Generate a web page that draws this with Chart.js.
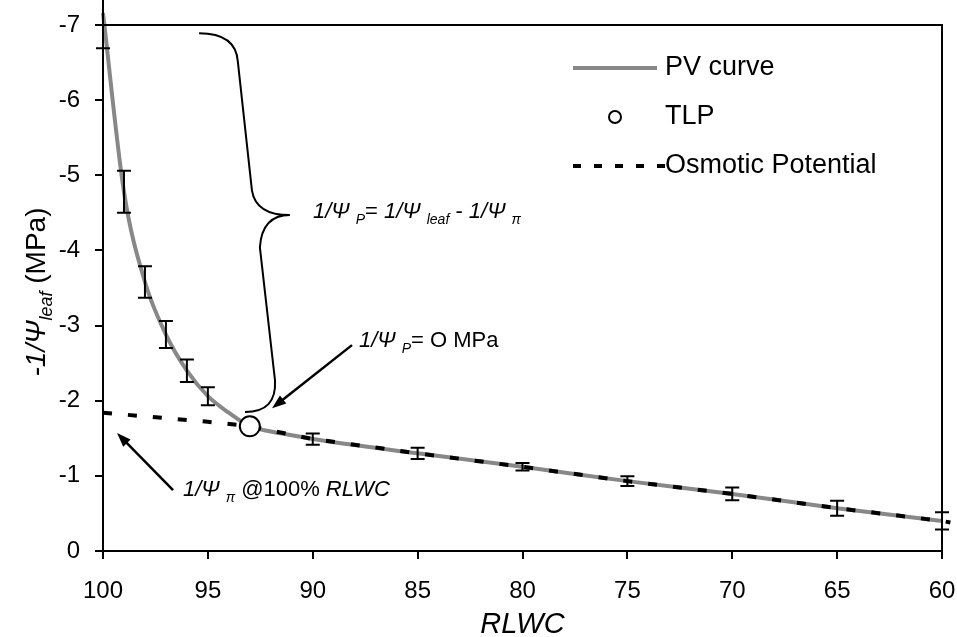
<!DOCTYPE html>
<html>
<head>
<meta charset="utf-8">
<script src="https://cdn.jsdelivr.net/npm/chart.js@4.4.1/dist/chart.umd.min.js"></script>
<style>
  body { margin: 0; background: #fff; }
  canvas { display: block; }
</style>
</head>
<body>
<canvas id="pvChart" width="957" height="637"></canvas>
<script>
// PV curve (RLWC %, -1/Psi leaf in MPa)
const pvRlwc = [100, 99, 98, 97, 96, 95, 94, 93, 92, 91, 90, 85, 80, 75, 70, 65, 60];
const pvValues = [-7.16, -4.78, -3.58, -2.88, -2.40, -2.06, -1.84, -1.66, -1.59, -1.54, -1.49, -1.30, -1.12, -0.93, -0.76, -0.57, -0.40];
const pvErrors = [0.47, 0.28, 0.21, 0.18, 0.15, 0.12, null, null, null, null, 0.075, 0.075, 0.05, 0.065, 0.085, 0.10, 0.115];

// osmotic potential line
const osmRlwc = [100, 95, 93, 90, 85, 80, 75, 70, 65, 60, 59.6];
const osmValues = [-1.84, -1.72, -1.66, -1.49, -1.30, -1.12, -0.93, -0.76, -0.57, -0.40, -0.38];

// turgor loss point
const tlpRlwc = [93];
const tlpValues = [-1.66];

const xTicks = [100, 95, 90, 85, 80, 75, 70, 65, 60];
const yTicks = [0, -1, -2, -3, -4, -5, -6, -7];

const FONT = "'Liberation Sans', Arial, sans-serif";

function toPoints(xs, ys) {
    return xs.map((x, i) => ({ x: x, y: ys[i] }));
}

// draws a run of text pieces (italic / subscript) from a baseline
function drawRich(ctx, x, y, parts) {
    let cx = x;
    parts.forEach(p => {
        const size = p.sub ? Math.round(p.size * 0.65) : p.size;
        ctx.font = (p.it ? "italic " : "") + size + "px " + FONT;
        ctx.fillText(p.t, cx, y + (p.sub ? p.size * 0.25 : 0));
        cx += ctx.measureText(p.t).width;
    });
    return cx - x;
}

function richWidth(ctx, parts) {
    let w = 0;
    parts.forEach(p => {
        const size = p.sub ? Math.round(p.size * 0.65) : p.size;
        ctx.font = (p.it ? "italic " : "") + size + "px " + FONT;
        w += ctx.measureText(p.t).width;
    });
    return w;
}

function arrow(ctx, x1, y1, x2, y2) {
    const ang = Math.atan2(y2 - y1, x2 - x1);
    const head = 15;
    ctx.beginPath();
    ctx.moveTo(x1, y1);
    ctx.lineTo(x2 - Math.cos(ang) * head * 0.8, y2 - Math.sin(ang) * head * 0.8);
    ctx.stroke();
    ctx.beginPath();
    ctx.moveTo(x2, y2);
    ctx.lineTo(x2 - head * Math.cos(ang - 0.35), y2 - head * Math.sin(ang - 0.35));
    ctx.lineTo(x2 - head * Math.cos(ang + 0.35), y2 - head * Math.sin(ang + 0.35));
    ctx.closePath();
    ctx.fill();
}

const extrasPlugin = {
    id: "extras",
    afterDatasetsDraw(chart) {
        const ctx = chart.ctx;
        const xs = chart.scales.x;
        const ys = chart.scales.y;
        const area = chart.chartArea;
        const P = (rx, ry) => [xs.getPixelForValue(rx), ys.getPixelForValue(ry)];

        ctx.save();
        ctx.strokeStyle = "#000";
        ctx.fillStyle = "#000";

        // error bars
        ctx.lineWidth = 2;
        pvRlwc.forEach((rx, i) => {
            const e = pvErrors[i];
            if (e === null) return;
            const px = xs.getPixelForValue(rx);
            const top = ys.getPixelForValue(pvValues[i] - e);
            const bot = ys.getPixelForValue(pvValues[i] + e);
            ctx.beginPath();
            ctx.moveTo(px, top);
            ctx.lineTo(px, bot);
            ctx.moveTo(px - 7, top);
            ctx.lineTo(px + 7, top);
            ctx.moveTo(px - 7, bot);
            ctx.lineTo(px + 7, bot);
            ctx.stroke();
        });

        // top and right frame
        ctx.lineWidth = 2;
        ctx.beginPath();
        ctx.moveTo(area.left, area.top);
        ctx.lineTo(area.right, area.top);
        ctx.lineTo(area.right, area.bottom);
        ctx.stroke();

        // brace
        ctx.lineWidth = 2;
        let a = P(95.42, -6.89), c, b;
        ctx.beginPath();
        ctx.moveTo(a[0], a[1]);
        c = P(93.66, -6.89); b = P(93.57, -6.51);
        ctx.quadraticCurveTo(c[0], c[1], b[0], b[1]);
        b = P(92.90, -4.80);
        ctx.lineTo(b[0], b[1]);
        c = P(92.71, -4.47); b = P(91.09, -4.47);
        ctx.quadraticCurveTo(c[0], c[1], b[0], b[1]);
        c = P(92.42, -4.47); b = P(92.52, -4.04);
        ctx.quadraticCurveTo(c[0], c[1], b[0], b[1]);
        b = P(91.80, -2.27);
        ctx.lineTo(b[0], b[1]);
        c = P(91.71, -1.85); b = P(93.23, -1.85);
        ctx.quadraticCurveTo(c[0], c[1], b[0], b[1]);
        ctx.stroke();

        // arrows
        ctx.lineWidth = 2.5;
        let s = P(88.13, -2.74), t = P(91.94, -1.90);
        arrow(ctx, s[0], s[1], t[0], t[1]);
        s = P(96.66, -0.81); t = P(99.33, -1.57);
        arrow(ctx, s[0], s[1], t[0], t[1]);

        // annotation texts
        ctx.textBaseline = "alphabetic";
        ctx.textAlign = "left";
        const fs = 22;
        let p = P(89.99, -4.43);
        drawRich(ctx, p[0], p[1], [
            { t: "1/\u03A8 ", it: true, size: fs },
            { t: "P", it: true, sub: true, size: fs },
            { t: "= ", size: fs },
            { t: "1/\u03A8 ", it: true, size: fs },
            { t: "leaf", it: true, sub: true, size: fs },
            { t: " - ", size: fs },
            { t: "1/\u03A8 ", it: true, size: fs },
            { t: "\u03C0", it: true, sub: true, size: fs }
        ]);
        p = P(87.80, -2.71);
        drawRich(ctx, p[0], p[1], [
            { t: "1/\u03A8 ", it: true, size: fs },
            { t: "P", it: true, sub: true, size: fs },
            { t: "= O MPa", size: fs }
        ]);
        p = P(96.19, -0.73);
        drawRich(ctx, p[0], p[1], [
            { t: "1/\u03A8 ", it: true, size: fs },
            { t: "\u03C0", it: true, sub: true, size: fs },
            { t: " @100% ", size: fs },
            { t: "RLWC", it: true, size: fs }
        ]);

        // legend
        const lx = area.right - 369;
        const tx = area.right - 277;
        const ly = [area.top + 43, area.top + 92, area.top + 141];
        ctx.lineWidth = 4;
        ctx.strokeStyle = "#888";
        ctx.beginPath();
        ctx.moveTo(lx, ly[0]);
        ctx.lineTo(lx + 84, ly[0]);
        ctx.stroke();
        ctx.strokeStyle = "#000";
        ctx.lineWidth = 2;
        ctx.fillStyle = "#fff";
        ctx.beginPath();
        ctx.arc(lx + 42, ly[1], 6, 0, Math.PI * 2);
        ctx.fill();
        ctx.stroke();
        ctx.lineWidth = 4;
        ctx.setLineDash([8, 13]);
        ctx.beginPath();
        ctx.moveTo(lx, ly[2]);
        ctx.lineTo(lx + 92, ly[2]);
        ctx.stroke();
        ctx.setLineDash([]);
        ctx.fillStyle = "#000";
        ctx.font = "27px " + FONT;
        ctx.textBaseline = "middle";
        ctx.fillText("PV curve", tx, ly[0]);
        ctx.fillText("TLP", tx, ly[1]);
        ctx.fillText("Osmotic Potential", tx, ly[2]);

        // axis titles
        ctx.textBaseline = "alphabetic";
        ctx.font = "italic 29px " + FONT;
        ctx.textAlign = "center";
        ctx.fillText("RLWC", (area.left + area.right) / 2, 633);

        ctx.textAlign = "left";
        const yTitle = [
            { t: "-1/\u03A8", it: true, size: 28 },
            { t: "leaf", it: true, sub: true, size: 28 },
            { t: " (MPa)", size: 28 }
        ];
        ctx.translate(45, 292);
        ctx.rotate(-Math.PI / 2);
        const w = richWidth(ctx, yTitle);
        drawRich(ctx, -w / 2, 0, yTitle);

        ctx.restore();
    }
};

new Chart(document.getElementById("pvChart"), {
    type: "line",
    data: {
        datasets: [
            {
                label: "TLP",
                data: toPoints(tlpRlwc, tlpValues),
                showLine: false,
                pointRadius: 10,
                pointBackgroundColor: "#fff",
                pointBorderColor: "#000",
                pointBorderWidth: 2,
                order: 0
            },
            {
                label: "Osmotic Potential",
                data: toPoints(osmRlwc, osmValues),
                borderColor: "#000",
                borderWidth: 4,
                borderDash: [9, 16],
                pointRadius: 0,
                fill: false,
                clip: false,
                order: 1
            },
            {
                label: "PV curve",
                data: toPoints(pvRlwc, pvValues),
                borderColor: "#888",
                borderWidth: 4,
                pointRadius: 0,
                fill: false,
                cubicInterpolationMode: "monotone",
                clip: false,
                order: 2
            }
        ]
    },
    options: {
        responsive: false,
        animation: false,
        layout: { padding: { top: 25, right: 15, left: 0, bottom: 0 } },
        plugins: {
            legend: { display: false },
            tooltip: { enabled: false }
        },
        scales: {
            x: {
                type: "linear",
                min: 60,
                max: 100,
                reverse: true,
                afterBuildTicks: s => { s.ticks = xTicks.map(v => ({ value: v })); },
                ticks: { color: "#000", font: { family: FONT, size: 24 }, padding: 18 },
                grid: { drawOnChartArea: false, color: "#000", lineWidth: 2, tickLength: 8 },
                border: { color: "#000", width: 2 },
                afterFit: s => {
                    s.height = 86;
                    s.paddingLeft = 0;
                    s.paddingRight = 0;
                }
            },
            y: {
                type: "linear",
                min: -7,
                max: 0,
                reverse: true,
                afterBuildTicks: s => { s.ticks = yTicks.map(v => ({ value: v })); },
                ticks: { color: "#000", font: { family: FONT, size: 24 }, padding: 15, callback: v => String(v) },
                grid: { drawOnChartArea: false, color: "#000", lineWidth: 2, tickLength: 8 },
                border: { color: "#000", width: 2 },
                afterFit: s => {
                    s.width = 103;
                    s.paddingTop = 0;
                    s.paddingBottom = 0;
                }
            }
        }
    },
    plugins: [extrasPlugin]
});
</script>
</body>
</html>
